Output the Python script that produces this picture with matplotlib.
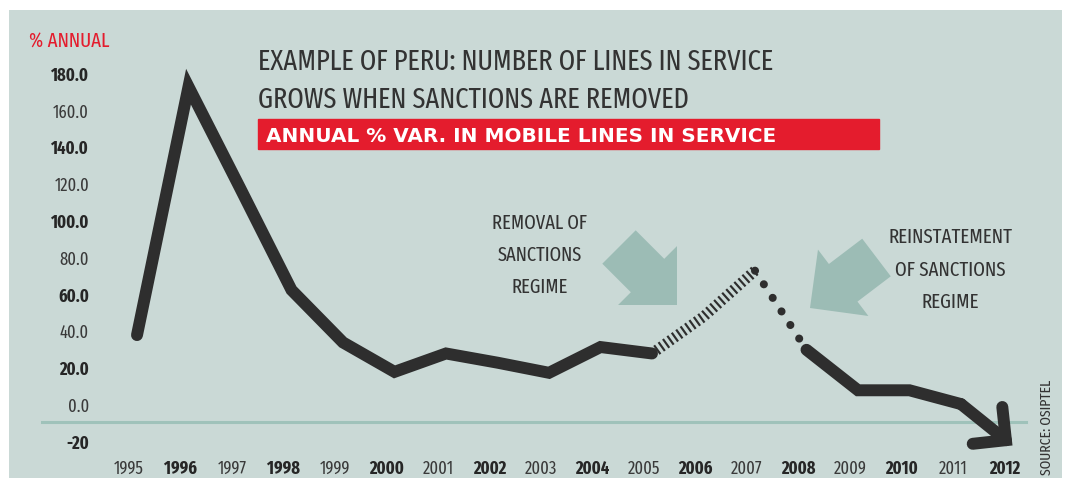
import matplotlib
matplotlib.use('Agg')
import matplotlib.pyplot as plt
from matplotlib.patches import Rectangle
from matplotlib.transforms import ScaledTranslation
from matplotlib.font_manager import FontProperties, fontManager

# ---------------- data ----------------
years = [1995, 1996, 1997, 1998, 1999, 2000, 2001, 2002, 2003, 2004,
         2005, 2006, 2007, 2008, 2009, 2010, 2011, 2012]
values = [38, 173, 118, 62.5, 34, 18, 28, 23, 17.5, 31.5,
          28, 48, 73, 30, 8, 8, 0.5, -22]
x_tick_labels = [str(y) for y in years]
y_ticks = [180, 160, 140, 120, 100, 80, 60, 40, 20, 0, -20]
y_tick_labels = ['180.0', '160.0', '140.0', '120.0', '100.0', '80.0',
                 '60.0', '40.0', '20.0', '0.0', '-20']
title_lines = ['EXAMPLE OF PERU: NUMBER OF LINES IN SERVICE',
               'GROWS WHEN SANCTIONS ARE REMOVED']
subtitle = 'ANNUAL % VAR. IN MOBILE LINES IN SERVICE'
unit_label = '% ANNUAL'
note_removal = ['REMOVAL OF', 'SANCTIONS', 'REGIME']
note_reinst = ['REINSTATEMENT', 'OF SANCTIONS', 'REGIME']
source = 'SOURCE: OSIPTEL'

# ---------------- pick a condensed font if one is installed ----------------
_ST = {'ultra-condensed': 100, 'extra-condensed': 200, 'condensed': 300,
       'semi-condensed': 400, 'normal': 500}


def _stretch_val(f):
    s = f.stretch
    if isinstance(s, str):
        v = _ST.get(s, 500)
    else:
        try:
            v = int(s)
        except Exception:
            v = 500
    n = f.name.replace(' ', '').lower()
    if 'extracondensed' in n or 'ultracondensed' in n:
        v = min(v, 200)
    elif 'semicondensed' in n:
        v = min(v, 400)
    elif 'condensed' in n or 'narrow' in n:
        v = min(v, 300)
    return v


best = None
for f in fontManager.ttflist:
    v = _stretch_val(f)
    if v >= 500:
        continue
    n = f.name.lower()
    if 'mono' in n or 'cjk' in n or ('serif' in n and 'sans' not in n):
        continue
    key = (v, 0 if ('noto' in n or 'roboto' in n or 'dejavu' in n or 'liberation' in n) else 1)
    if best is None or key < best[0]:
        best = (key, f.name, f.stretch)

if best is not None:
    COND, COND_ST = best[1], best[2]
else:
    COND, COND_ST = 'DejaVu Sans', 'normal'


def cfp(weight='normal', size=10):
    return FontProperties(family=[COND, 'DejaVu Sans'], stretch=COND_ST,
                          weight=weight, size=size)


# ---------------- style ----------------
W, H = 1067, 482
PANEL = '#cad9d6'
DARK = '#2e2e2e'
TXT = '#333333'
RED = '#e41c2d'
ARROW = '#9cbcb5'
BASE = '#9fc2ba'

fig = plt.figure(figsize=(W / 100, H / 100), dpi=100, facecolor='white')
renderer = fig.canvas.get_renderer()
ax = fig.add_axes([9 / W, 1 - 478 / H, (1062 - 9) / W, (478 - 10) / H])
ax.set_facecolor(PANEL)
for s in ax.spines.values():
    s.set_visible(False)

# layout (x: 51.5 px/year with 1995 at px 137; y: 1.84 px/unit with 0 at px 405)
ax.set_xlim(1995 + (9 - 137) / 51.5, 1995 + (1062 - 137) / 51.5)
ax.set_ylim((405 - 478) / 1.84, (405 - 10) / 1.84)

ax.axhline(-9.2, xmin=(42 - 9) / 1053, xmax=(1026 - 9) / 1053, color=BASE, lw=2.2, zorder=1)

LW = 8.6
ax.plot(years[0:11], values[0:11], color=DARK, lw=LW, solid_capstyle='round',
        solid_joinstyle='miter', zorder=3)
ax.plot(years[10:13], values[10:13], color=DARK, lw=7.8, dashes=(0.2, 0.3),
        dash_capstyle='butt', zorder=3)
ax.plot(years[12:14], values[12:14], color=DARK, lw=5.8, dashes=(0.01, 2.0),
        dash_capstyle='round', zorder=3)
ax.plot(years[13:17], values[13:17], color=DARK, lw=LW, solid_capstyle='round',
        solid_joinstyle='miter', zorder=3)
ax.annotate('', xy=(years[17], values[17]), xytext=(years[16], values[16]),
            arrowprops=dict(arrowstyle='->,head_length=0.85,head_width=0.85',
                            lw=LW, color=DARK, shrinkA=0, shrinkB=0,
                            mutation_scale=20, capstyle='round', joinstyle='miter'),
            zorder=3)


def px2d(x, y):
    return (1995 + (x - 137) / 51.5, (405 - y) / 1.84)


sty = 'simple,head_length=30,head_width=60,tail_width=34'
ax.annotate('', xy=px2d(677, 305), xytext=px2d(619, 247),
            arrowprops=dict(arrowstyle=sty, mutation_scale=1, color=ARROW, lw=0,
                            shrinkA=0, shrinkB=0), zorder=2)
ax.annotate('', xy=px2d(810, 308), xytext=px2d(876.5, 257.5),
            arrowprops=dict(arrowstyle=sty, mutation_scale=1, color=ARROW, lw=0,
                            shrinkA=0, shrinkB=0), zorder=2)


def fit_size(s, target, weight='normal', family=None, rot=False):
    fp = cfp(weight, 10) if family is None else FontProperties(family=family, weight=weight, size=10)
    t = fig.text(0, 0, s, fontproperties=fp, rotation=90 if rot else 0)
    bb = t.get_window_extent(renderer)
    t.remove()
    return 10 * target / (bb.height if rot else bb.width)


# ticks
ysz = fit_size('180.0', 38, 'bold')
ax.set_yticks(y_ticks, y_tick_labels)
ax.tick_params(axis='y', length=0, pad=-(89 - 9) * 0.72)
for i, lbl in enumerate(ax.get_yticklabels()):
    b = i % 2 == 0
    lbl.set_fontproperties(cfp('bold' if b else 'normal', ysz))
    lbl.set_color('#262626' if b else '#3a3a3a')

xsz = fit_size('2012', 31, 'bold')
ax.set_xticks(years, x_tick_labels)
ax.tick_params(axis='x', length=0, pad=-(478 - 474) * 0.72)
off = ScaledTranslation(-8 / 100, 0, fig.dpi_scale_trans)
for i, lbl in enumerate(ax.get_xticklabels()):
    b = i % 2 == 1
    lbl.set_fontproperties(cfp('bold' if b else 'normal', xsz))
    lbl.set_color('#262626' if b else '#3a3a3a')
    lbl.set_verticalalignment('baseline')
    lbl.set_transform(lbl.get_transform() + off)

# texts
fig.text(29 / W, 1 - 47 / H, unit_label, color=RED, va='baseline',
         fontproperties=cfp('normal', fit_size(unit_label, 80)))
tsz = fit_size(title_lines[0], 514)
fig.text(258 / W, 1 - 70 / H, title_lines[0], color=TXT, va='baseline', fontproperties=cfp('normal', tsz))
fig.text(258 / W, 1 - 108 / H, title_lines[1], color=TXT, va='baseline', fontproperties=cfp('normal', tsz))

fig.patches.append(Rectangle((258 / W, 1 - 149 / H), (879 - 258) / W, 30 / H,
                             transform=fig.transFigure, color=RED, zorder=2))
ssz = fit_size(subtitle, 510, 'bold', family=['DejaVu Sans'])
fig.text(266 / W, 1 - 142 / H, subtitle, color='white', va='baseline', zorder=3,
         fontproperties=FontProperties(family=['DejaVu Sans'], weight='bold', size=ssz))

rsz = fit_size(note_removal[0], 95)
for i, t in enumerate(note_removal):
    fig.text(540 / W, 1 - (229 + 32 * i) / H, t, color=TXT, ha='center', va='baseline',
             fontproperties=cfp('normal', rsz))
isz = fit_size(note_reinst[0], 124)
for i, t in enumerate(note_reinst):
    fig.text(950 / W, 1 - (243 + 32.5 * i) / H, t, color=TXT, ha='center', va='baseline',
             fontproperties=cfp('normal', isz))

fig.text(1047 / W, 1 - 427 / H, source, color=TXT, rotation=90, ha='center', va='center',
         fontproperties=cfp('normal', fit_size(source, 95, rot=True)))

fig.savefig('out.png', dpi=100, facecolor='white')
